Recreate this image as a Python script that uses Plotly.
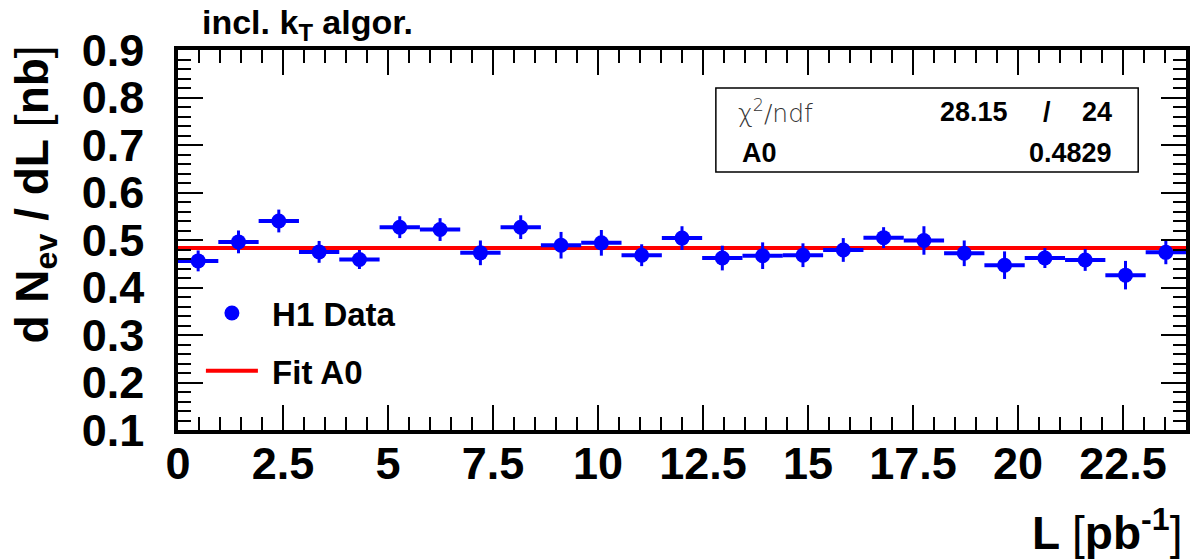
import plotly.graph_objects as go

# ---- data ----
lumi = [0.48, 1.44, 2.40, 3.36, 4.32, 5.28, 6.24, 7.20, 8.16, 9.12, 10.08, 11.04,
        12.00, 12.96, 13.92, 14.88, 15.84, 16.80, 17.76, 18.72, 19.68, 20.64,
        21.60, 22.56, 23.52]
bin_half = [0.48] * 25
rate = [0.456, 0.496, 0.540, 0.475, 0.459, 0.527, 0.522, 0.473, 0.527, 0.489,
        0.494, 0.468, 0.504, 0.462, 0.467, 0.468, 0.479, 0.505, 0.499, 0.472,
        0.447, 0.462, 0.458, 0.426, 0.474]
rate_err = [0.022, 0.024, 0.024, 0.023, 0.020, 0.023, 0.024, 0.026, 0.025, 0.028,
            0.027, 0.023, 0.025, 0.026, 0.028, 0.025, 0.025, 0.022, 0.030, 0.027,
            0.029, 0.021, 0.023, 0.030, 0.025]
fit_x = [0.0, 24.0]
fit_A0 = 0.4829
chi2, ndf = 28.15, 24

FONT = "Liberation Sans"

# page has an 8px body margin: figure pixel = screen pixel - 8
OFF = 8
W, H = 1200 - OFF, 559 - OFF
# plot frame in screen pixels
SL, SR, ST, SB = 178, 1190, 50, 430
L_, R_, T_, B_ = SL - OFF, SR - OFF, ST - OFF, SB - OFF


def px(xs):
    return (xs - SL) / (SR - SL)


def py(ys):
    return (SB - ys) / (SB - ST)


fig = go.Figure()

fig.add_trace(go.Scatter(
    x=fit_x, y=[fit_A0, fit_A0], mode="lines",
    line=dict(color="#ff0000", width=4), name="\u00a0<b>Fit A0</b>",
    legendgroup="b", legendrank=2, cliponaxis=True))

fig.add_trace(go.Scatter(
    x=lumi, y=rate, mode="markers", name="\u00a0<b>H1 Data</b>", legendgroup="a",
    legendrank=1,
    marker=dict(color="#0000ff", size=15, symbol="circle"),
    error_y=dict(type="data", array=rate_err, color="#0000ff", thickness=3, width=0),
    error_x=dict(type="data", array=bin_half, color="#0000ff", thickness=4, width=0)))

axis_common = dict(
    showline=True, linecolor="black", linewidth=3.5, mirror="allticks",
    ticks="inside", tickcolor="black", tickwidth=1.5, ticklen=25,
    showgrid=False, zeroline=False,
    tickfont=dict(family=FONT, size=45, color="black", weight="bold"),
)

fig.update_xaxes(range=[0, 24], dtick=2.5, tick0=0, ticklabelstandoff=-9,
                 minor=dict(ticks="inside", dtick=0.5, ticklen=13, tickwidth=1.5,
                            tickcolor="black", showgrid=False),
                 **axis_common)
fig.update_yaxes(range=[0.1, 0.9], dtick=0.1, tick0=0.1, ticklabelstandoff=21,
                 tickformat=".1f",
                 minor=dict(ticks="inside", dtick=0.02, ticklen=13, tickwidth=1.5,
                            tickcolor="black", showgrid=False),
                 **axis_common)

annotations = [
    dict(text="<b>incl. k<sub>T</sub> algor.</b>", x=px(200), y=py(25),
         xanchor="left", yanchor="middle", font=dict(family=FONT, size=34, color="black")),
    dict(text="<b>L </b>[<b>pb<sup>-1</sup></b>]", x=px(1188), y=py(530),
         xanchor="right", yanchor="middle", font=dict(family=FONT, size=46, color="black")),
    dict(text="<b>d N<sub>ev</sub> / dL </b>[<b>nb</b>]", x=px(34), y=py(195),
         textangle=-90, xanchor="center", yanchor="middle",
         font=dict(family=FONT, size=46, color="black")),
    # stats box
    dict(text="\u03c7<sup>2</sup>/ndf", x=px(738), y=py(112), xanchor="left", yanchor="middle",
         font=dict(family="DejaVu Sans", size=25, color="#333333", weight=300)),
    dict(text=f"<b>{chi2:.2f}</b>", x=px(1013), y=py(112), xanchor="right", yanchor="middle",
         font=dict(family=FONT, size=27, color="black")),
    dict(text="<b>/</b>", x=px(1050), y=py(112), xanchor="center", yanchor="middle",
         font=dict(family=FONT, size=27, color="black")),
    dict(text=f"<b>{ndf}</b>", x=px(1118), y=py(112), xanchor="right", yanchor="middle",
         font=dict(family=FONT, size=27, color="black")),
    dict(text="<b>A0</b>", x=px(742), y=py(153), xanchor="left", yanchor="middle",
         font=dict(family=FONT, size=27, color="black")),
    dict(text=f"<b>{fit_A0:.4f}</b>", x=px(1118), y=py(153), xanchor="right", yanchor="middle",
         font=dict(family=FONT, size=27, color="black")),
]
for a in annotations:
    a.update(xref="paper", yref="paper", showarrow=False)

shapes = [dict(type="rect", xref="paper", yref="paper",
               x0=px(718), x1=px(1142), y0=py(172), y1=py(88),
               line=dict(color="black", width=1.5), fillcolor="white", layer="above")]

fig.update_layout(
    width=W, height=H,
    margin=dict(l=L_, r=W - R_, t=T_, b=H - B_, pad=0),
    paper_bgcolor="white", plot_bgcolor="white",
    annotations=annotations, shapes=shapes,
    showlegend=True,
    legend=dict(x=px(201), y=py(285), xanchor="left", yanchor="top",
                bgcolor="rgba(0,0,0,0)", borderwidth=0, traceorder="grouped",
                tracegroupgap=12, itemwidth=52,
                font=dict(family=FONT, size=33, color="black")),
)

fig.write_html("out.html")
